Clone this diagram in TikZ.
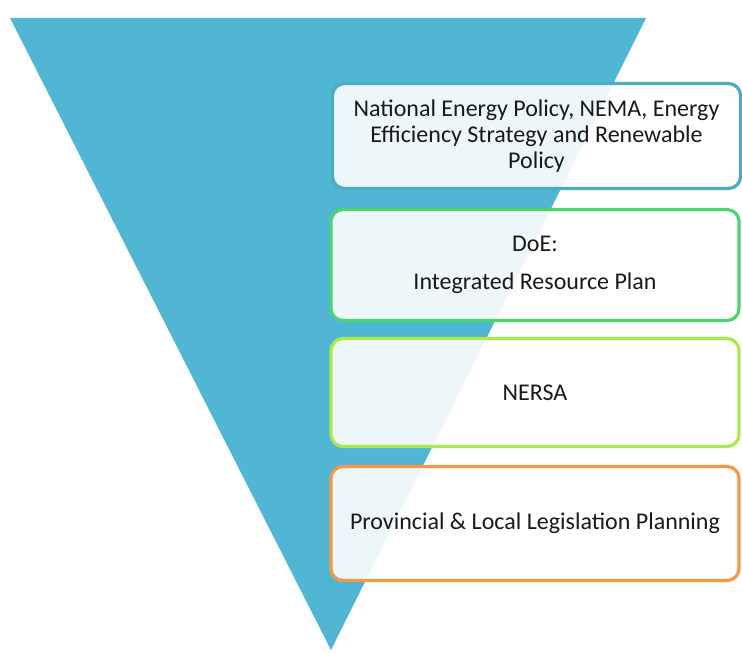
\documentclass[tikz,border=0pt]{standalone}
\usepackage{fontspec}
\setmainfont{Carlito}
\usetikzlibrary{positioning}

\definecolor{triblue}{RGB}{80,182,211}
\definecolor{policyblue}{RGB}{75,172,198}
\definecolor{doegreen}{RGB}{76,212,112}
\definecolor{nersagreen}{RGB}{170,232,76}
\definecolor{provorange}{RGB}{247,150,70}

\tikzset{
  levelbox/.style={draw, line width=1.6pt, rounded corners=6pt, fill=white,
    fill opacity=0.9, text opacity=1, text=black!90, align=center,
    minimum width=204pt, font=\fontsize{12}{13}\selectfont}
}

\begin{document}
\begin{tikzpicture}[x=0.5pt,y=-0.5pt]

% Page frame (keeps the margins)
 \useasboundingbox (0,0) rectangle (742,652);

% Big inverted triangle
 \fill [triblue] (10,18) -- (646,18) -- (331,650) -- cycle;

% Levels, top to bottom
 \node (policy) [levelbox, draw=policyblue, minimum height=52.5pt] at (536.5,136)
   {National Energy Policy, NEMA, Energy\\Efficiency Strategy and Renewable\\Policy};
 \node (doe) [levelbox, draw=doegreen, minimum height=55.5pt] at (535,265)
   {DoE:\\[6pt]Integrated Resource Plan};
 \node (nersa) [levelbox, draw=nersagreen, minimum height=54pt] at (535,392.5)
   {NERSA};
 \node (prov) [levelbox, draw=provorange, minimum height=57pt] at (535,523.5)
   {Provincial \& Local Legislation Planning};

\end{tikzpicture}
\end{document}
